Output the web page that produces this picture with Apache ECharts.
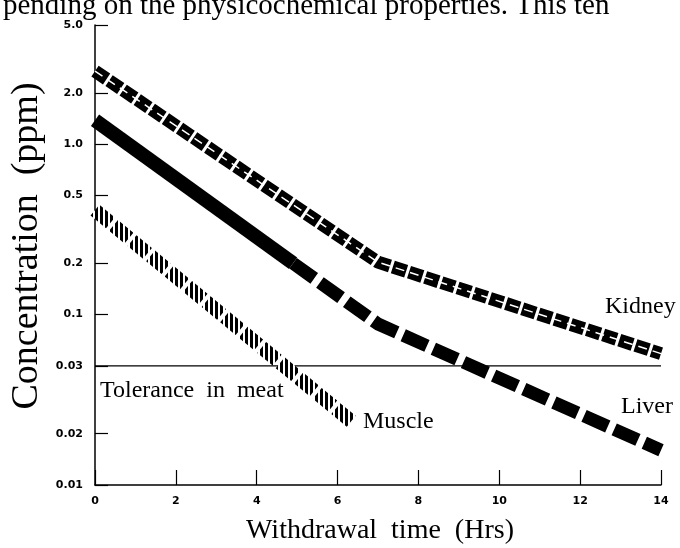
<!DOCTYPE html>
<html>
<head>
<meta charset="utf-8">
<script src="https://cdn.jsdelivr.net/npm/echarts@6/dist/echarts.min.js"></script>
<style>
  html, body { margin: 0; padding: 0; background: #fff; }
  #chart { width: 680px; height: 548px; }
</style>
</head>
<body>
<div id="chart"></div>
<script>
// values (hours, ppm)
const kidneyHours = [0, 7, 14]
const kidneyPpm = [2.68, 0.203, 0.059]
const liverSolidHours = [0, 4.9]
const liverSolidPpm = [1.38, 0.2]
const liverDashHours = [4.9, 7, 14]
const liverDashPpm = [0.2, 0.088, 0.016]
const muscleHours = [0, 6.4]
const musclePpm = [0.41, 0.023]
const toleranceHours = [0, 14]
const tolerancePpm = [0.05, 0.05]

const yTicks = [0.01, 0.02, 0.05, 0.1, 0.2, 0.5, 1, 2, 5]
const yTickLabels = ['0.01', '0.02', '0.03', '0.1', '0.2', '0.5', '1.0', '2.0', '5.0']

const serif = '"Liberation Serif", "DejaVu Serif", serif'
const tickFont = '"DejaVu Sans", sans-serif'

function pairs(xs, ys) {
  return xs.map((x, i) => [x, ys[i]])
}

// vertical hatch used for the muscle band
function hatch() {
  const c = document.createElement('canvas')
  c.width = 5
  c.height = 4
  const ctx = c.getContext('2d')
  ctx.fillStyle = '#fff'
  ctx.fillRect(0, 0, 5, 4)
  ctx.fillStyle = '#000'
  ctx.fillRect(0, 0, 3, 4)
  return c
}

const chart = echarts.init(document.getElementById('chart'), null, { renderer: 'canvas' })

chart.setOption({
  animation: false,
  backgroundColor: '#fff',
  grid: { left: 95, right: 19, top: 25, bottom: 63 },
  xAxis: {
    type: 'value',
    min: 0,
    max: 14,
    interval: 2,
    axisLine: { lineStyle: { color: '#000', width: 1.5 } },
    axisTick: { inside: true, length: 15, lineStyle: { color: '#000', width: 1.2 } },
    axisLabel: { color: '#000', fontFamily: tickFont, fontWeight: 'bold', fontSize: 11, margin: 11 },
    splitLine: { show: false },
  },
  yAxis: {
    type: 'log',
    logBase: 10,
    min: 0.01,
    max: 5,
    axisLine: { show: true, lineStyle: { color: '#000', width: 1.5 } },
    axisTick: {
      show: true,
      inside: true,
      length: 13,
      customValues: yTicks,
      lineStyle: { color: '#000', width: 1.2 },
    },
    axisLabel: {
      customValues: yTicks,
      color: '#000',
      fontFamily: tickFont,
      fontWeight: 'bold',
      fontSize: 11,
      margin: 12,
      formatter: (v) => {
        const i = yTicks.findIndex((t) => Math.abs(t - v) < 1e-9)
        return i >= 0 ? yTickLabels[i] : ''
      },
    },
    splitLine: { show: false },
    minorTick: { show: false },
  },
  series: [
    {
      name: 'Tolerance in meat',
      type: 'line',
      data: pairs(toleranceHours, tolerancePpm),
      showSymbol: false,
      lineStyle: { color: '#000', width: 1.3 },
      z: 1,
    },
    {
      name: 'Kidney',
      type: 'line',
      data: pairs(kidneyHours, kidneyPpm),
      showSymbol: false,
      lineStyle: { color: '#000', width: 13, type: [14, 3], cap: 'butt' },
      z: 2,
    },
    {
      name: 'Kidney stripe',
      type: 'line',
      data: pairs(kidneyHours, kidneyPpm),
      showSymbol: false,
      lineStyle: { color: '#fff', width: 1.5, type: [9, 6] },
      z: 3,
    },
    {
      name: 'Liver',
      type: 'line',
      data: pairs(liverSolidHours, liverSolidPpm),
      showSymbol: false,
      lineStyle: { color: '#000', width: 14, cap: 'butt' },
      z: 2,
    },
    {
      name: 'Liver dashed',
      type: 'line',
      data: pairs(liverDashHours, liverDashPpm),
      showSymbol: false,
      lineStyle: { color: '#000', width: 13, type: [26, 7], cap: 'butt' },
      z: 2,
    },
    {
      name: 'Muscle',
      type: 'line',
      data: pairs(muscleHours, musclePpm),
      showSymbol: false,
      lineStyle: { color: { image: hatch(), repeat: 'repeat' }, width: 14, type: [20, 4], cap: 'butt' },
      z: 2,
    },
  ],
  graphic: [
    {
      type: 'text',
      style: {
        text: 'pending on the physicochemical properties. This ten',
        x: 3, y: 6, font: '29px ' + serif, fill: '#000', textVerticalAlign: 'middle',
      },
    },
    {
      type: 'text',
      rotation: Math.PI / 2,
      x: 27, y: 246,
      style: {
        text: 'Concentration  (ppm)',
        x: 0, y: 0, font: '38px ' + serif, fill: '#000',
        textAlign: 'center', textVerticalAlign: 'middle',
      },
    },
    {
      type: 'text',
      style: {
        text: 'Withdrawal  time  (Hrs)',
        x: 380, y: 531, font: '28px ' + serif, fill: '#000',
        textAlign: 'center', textVerticalAlign: 'middle',
      },
    },
    {
      type: 'text',
      style: { text: 'Kidney', x: 605, y: 307, font: '24px ' + serif, fill: '#000', textVerticalAlign: 'middle' },
    },
    {
      type: 'text',
      style: { text: 'Liver', x: 621, y: 407, font: '24px ' + serif, fill: '#000', textVerticalAlign: 'middle' },
    },
    {
      type: 'text',
      style: { text: 'Muscle', x: 363, y: 422, font: '24px ' + serif, fill: '#000', textVerticalAlign: 'middle' },
    },
    {
      type: 'text',
      style: { text: 'Tolerance  in  meat', x: 100, y: 391, font: '24px ' + serif, fill: '#000', textVerticalAlign: 'middle' },
    },
  ],
})
</script>
</body>
</html>
